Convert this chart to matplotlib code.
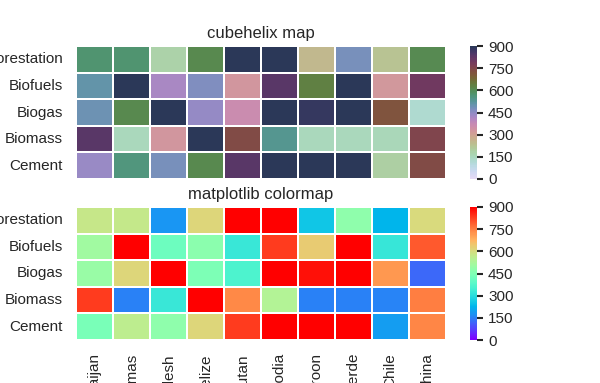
import numpy as np
import pandas as pd
import seaborn as sns
import matplotlib
matplotlib.use('Agg')
import matplotlib.pyplot as plt

# Emission kinds (rows) and regions (columns)
kinds = ['Afforestation & reforestation', 'Biofuels', 'Biogas', 'Biomass', 'Cement']
regions = ['Azerbaijan', 'Bahamas', 'Bangladesh', 'Belize', 'Bhutan',
           'Cambodia', 'Cameroon', 'Cape Verde', 'Chile', 'China']

# values above 900 saturate both colormaps
afforestation = [576, 570, 180, 612, 980, 980, 256, 477, 225, 608]
biofuels = [508, 980, 418, 470, 324, 831, 635, 980, 320, 797]
biogas = [495, 612, 980, 445, 360, 980, 882, 980, 715, 121]
biomass = [831, 153, 324, 980, 738, 540, 153, 153, 155, 750]
cement = [437, 558, 477, 612, 831, 980, 980, 980, 193, 740]

pt = pd.DataFrame([afforestation, biofuels, biogas, biomass, cement],
                  index=kinds, columns=regions)

sns.set_theme(style='white')
plt.rcParams['font.family'] = ['Liberation Sans', 'DejaVu Sans']

W, H = 600, 383
fig = plt.figure(figsize=(W / 100, H / 100), dpi=100)


def box(x0, y0, x1, y1):
    # pixel box -> figure fraction rect
    return [x0 / W, 1 - y1 / H, (x1 - x0) / W, (y1 - y0) / H]


ax1 = fig.add_axes(box(76, 46, 446, 179))
cax1 = fig.add_axes(box(470, 46, 477, 179))
ax2 = fig.add_axes(box(76, 207, 446, 340))
cax2 = fig.add_axes(box(470, 207, 477, 340))

cmap = sns.cubehelix_palette(start=1.5, rot=3, gamma=0.8, as_cmap=True)
sns.heatmap(pt, linewidths=0.05, ax=ax1, cbar_ax=cax1, vmax=900, vmin=0, cmap=cmap)
ax1.set_title('cubehelix map', fontsize=12)
ax1.set_xlabel('')
ax1.set_xticklabels([])
ax1.set_ylabel('')

sns.heatmap(pt, linewidths=0.05, ax=ax2, cbar_ax=cax2, vmax=900, vmin=0, cmap='rainbow')
ax2.set_title('matplotlib colormap', fontsize=12)
ax2.set_xlabel('')
ax2.set_ylabel('')

for ax in (ax1, ax2):
    ax.tick_params(axis='y', rotation=0)
ax2.tick_params(axis='x', rotation=90)

for cax in (cax1, cax2):
    cax.set_yticks([0, 150, 300, 450, 600, 750, 900])
    cax.tick_params(length=4.5, width=1.5)

fig.savefig('out.png', dpi=100)
